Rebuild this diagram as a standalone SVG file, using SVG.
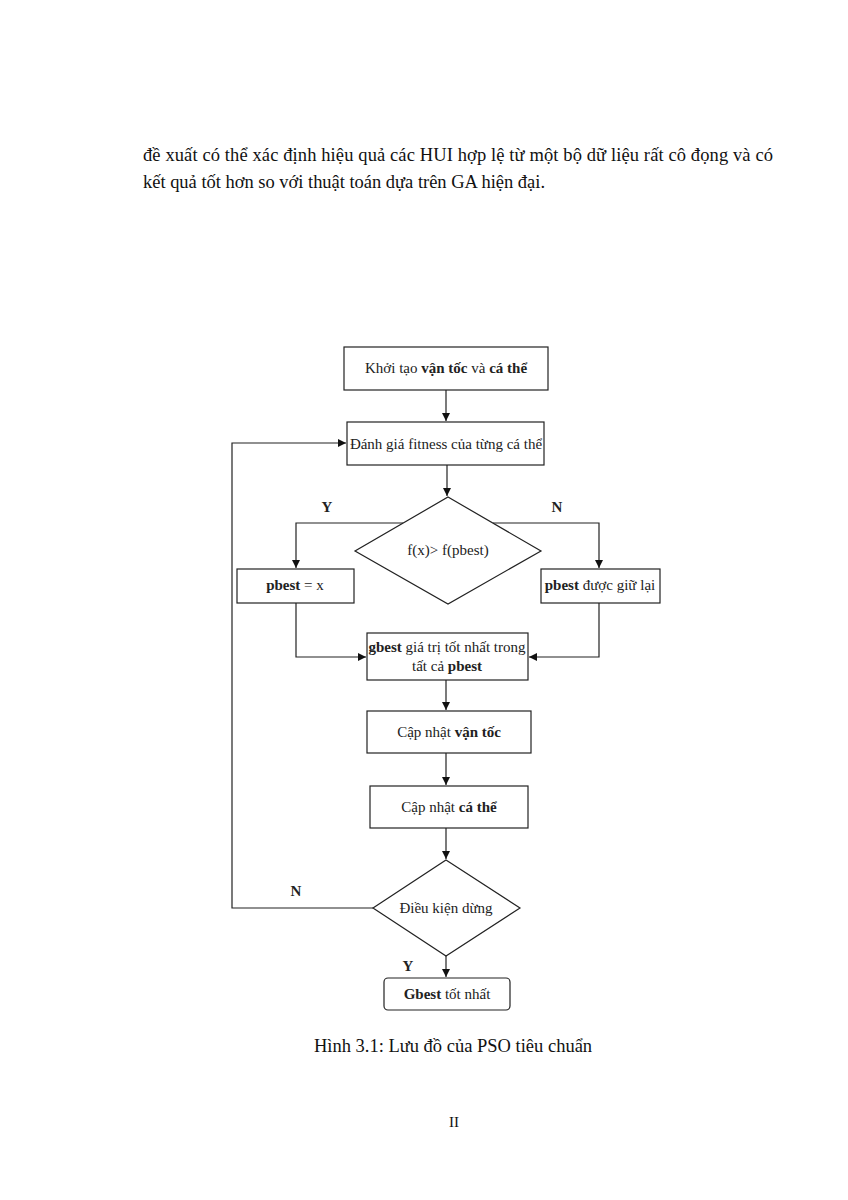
<svg xmlns="http://www.w3.org/2000/svg" width="848" height="1200" viewBox="0 0 848 1200">
<style>
.page{font-family:"Liberation Serif","Times New Roman",serif;fill:#111;}
.para{font-size:18.5px;}
.t{font-family:"Liberation Serif","Times New Roman",serif;font-size:15px;fill:#222;text-anchor:middle;}
.lbl{font-family:"Liberation Serif","Times New Roman",serif;font-size:15px;font-weight:bold;fill:#222;text-anchor:middle;}
.box{fill:#fff;stroke:#222;stroke-width:1.2;}
.ln{fill:none;stroke:#222;stroke-width:1.2;}
</style>
<defs>
<marker id="ah" viewBox="0 0 10 10" refX="10" refY="5" markerWidth="8" markerHeight="8" markerUnits="userSpaceOnUse" orient="auto">
<path d="M0,0 L10,5 L0,10 Z" fill="#111"/>
</marker>
</defs>
<rect width="848" height="1200" fill="#fff"/>
<g id="paragraph" class="page para">
<text x="143" y="161" textLength="630" lengthAdjust="spacing">đề xuất có thể xác định hiệu quả các HUI hợp lệ từ một bộ dữ liệu rất cô đọng và có</text>
<text x="143" y="188" textLength="402" lengthAdjust="spacing">kết quả tốt hơn so với thuật toán dựa trên GA hiện đại.</text>
</g>
<g id="connectors">
<line class="ln" x1="446" y1="390" x2="446" y2="421" marker-end="url(#ah)"/>
<polyline class="ln" points="373,908 232,908 232,443 346,443" marker-end="url(#ah)"/>
<line class="ln" x1="447" y1="465" x2="447" y2="496" marker-end="url(#ah)"/>
<polyline class="ln" points="403,523 296,523 296,568" marker-end="url(#ah)"/>
<polyline class="ln" points="493,523 599,523 599,568" marker-end="url(#ah)"/>
<polyline class="ln" points="296,603 296,657 366,657" marker-end="url(#ah)"/>
<polyline class="ln" points="599,603 599,657 529,657" marker-end="url(#ah)"/>
<line class="ln" x1="446" y1="680" x2="446" y2="710" marker-end="url(#ah)"/>
<line class="ln" x1="446" y1="753" x2="446" y2="785" marker-end="url(#ah)"/>
<line class="ln" x1="446" y1="828" x2="446" y2="859" marker-end="url(#ah)"/>
<line class="ln" x1="446" y1="956" x2="446" y2="977" marker-end="url(#ah)"/>
<text class="lbl" x="327" y="512">Y</text>
<text class="lbl" x="557" y="512">N</text>
<text class="lbl" x="296" y="896">N</text>
<text class="lbl" x="408" y="971">Y</text>
</g>
<g id="n-init">
<rect class="box" x="344" y="347" width="204" height="43"/>
<text class="t" x="446" y="373">Khởi tạo <tspan font-weight="bold">vận tốc</tspan> và <tspan font-weight="bold">cá thể</tspan></text>
</g>
<g id="n-eval">
<rect class="box" x="347" y="422" width="197" height="43"/>
<text class="t" x="446" y="449">Đánh giá fitness của từng cá thể</text>
</g>
<g id="n-cond">
<polygon class="box" points="448,497 541,551 448,604 355,551"/>
<text class="t" x="448" y="555">f(x)&gt; f(pbest)</text>
</g>
<g id="n-pbestx">
<rect class="box" x="237" y="569" width="117" height="34"/>
<text class="t" x="295" y="590"><tspan font-weight="bold">pbest</tspan> = x</text>
</g>
<g id="n-pbestkeep">
<rect class="box" x="541" y="569" width="119" height="34"/>
<text class="t" x="600" y="590"><tspan font-weight="bold">pbest</tspan> được giữ lại</text>
</g>
<g id="n-gbest">
<rect class="box" x="367" y="633" width="161" height="47"/>
<text class="t" x="447" y="652"><tspan font-weight="bold">gbest</tspan> giá trị tốt nhất trong</text>
<text class="t" x="447" y="671">tất cả <tspan font-weight="bold">pbest</tspan></text>
</g>
<g id="n-vel">
<rect class="box" x="367" y="711" width="164" height="42"/>
<text class="t" x="449" y="737">Cập nhật <tspan font-weight="bold">vận tốc</tspan></text>
</g>
<g id="n-pos">
<rect class="box" x="370" y="786" width="158" height="42"/>
<text class="t" x="449" y="812">Cập nhật <tspan font-weight="bold">cá thể</tspan></text>
</g>
<g id="n-stop">
<polygon class="box" points="446,860 520,908 446,956 373,908"/>
<text class="t" x="446" y="913">Điều kiện dừng</text>
</g>
<g id="n-result">
<rect class="box" x="384" y="978" width="126" height="32" rx="4"/>
<text class="t" x="447" y="999"><tspan font-weight="bold">Gbest</tspan> tốt nhất</text>
</g>
<g id="caption" class="page">
<text x="453" y="1052" font-size="18.5" text-anchor="middle">Hình 3.1: Lưu đồ của PSO tiêu chuẩn</text>
<text x="454" y="1127" font-size="15" text-anchor="middle">II</text>
</g>
</svg>
